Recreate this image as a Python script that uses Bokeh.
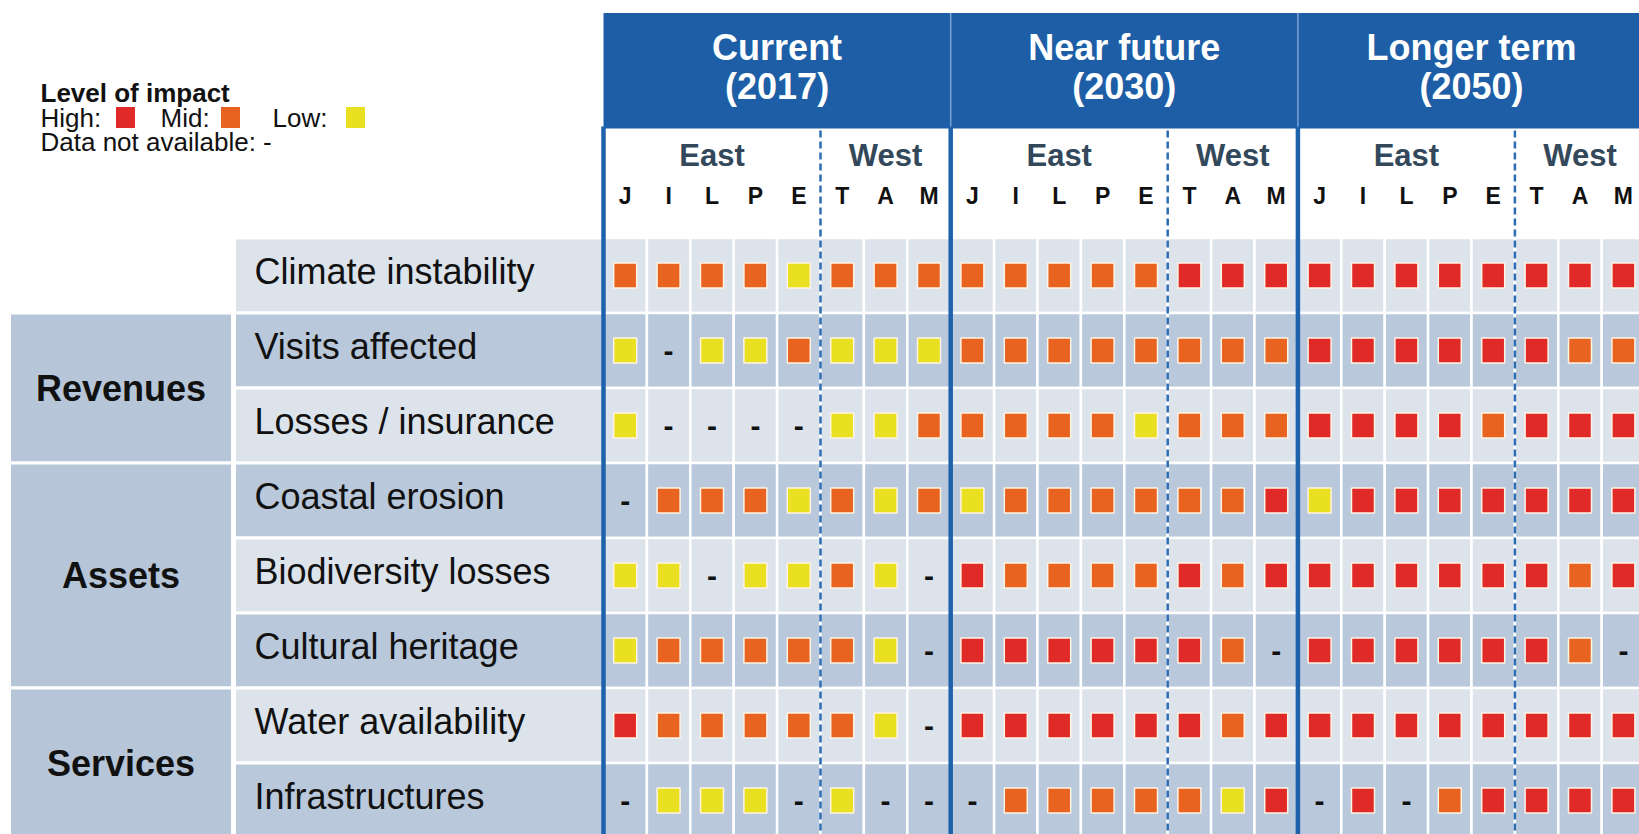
from bokeh.plotting import figure
from bokeh.models import Range1d
from bokeh.embed import file_html
from bokeh.resources import INLINE
from bokeh.core.properties import value

# ---------------- data ----------------
periods = ["Current", "Near future", "Longer term"]
period_years = ["(2017)", "(2030)", "(2050)"]
regions = ["East", "West"]
region_sizes = [5, 3]
sites = ["J", "I", "L", "P", "E", "T", "A", "M"]
impacts = ["Climate instability", "Visits affected", "Losses / insurance",
           "Coastal erosion", "Biodiversity losses", "Cultural heritage",
           "Water availability", "Infrastructures"]
groups = ["Revenues", "Assets", "Services"]
group_rows = [[1, 2], [3, 4, 5], [6, 7]]

# H = high, M = mid, L = low, - = data not available (sites J I L P E T A M)
impact_2017 = ["MMMMLMMM", "L-LLMLLL", "L----LLM", "-MMMLMLM",
               "LL-LLML-", "LMMMMML-", "HMMMMML-", "-LLL-L--"]
impact_2030 = ["MMMMMHHH", "MMMMMMMM", "MMMMLMMM", "LMMMMMMH",
               "HMMMMHMH", "HHHHHHM-", "HHHHHHMH", "-MMMMMLH"]
impact_2050 = ["HHHHHHHH", "HHHHHHMM", "HHHHMHHH", "LHHHHHHH",
               "HHHHHHMH", "HHHHHHM-", "HHHHHHHH", "-H-MHHHH"]
impact_by_period = [impact_2017, impact_2030, impact_2050]

level_names = ["High", "Mid", "Low"]
level_codes = ["H", "M", "L"]
level_colors = {"H": "#e02a27", "M": "#e8631f", "L": "#e8e020"}

# ---------------- layout (reference pixel frame) ----------------
X0, CW, Y0, RH = 603.0, 43.4, 237.5, 75.0
PAGE, W, H = 0, 1639, 834
FONT = value("Liberation Sans")


def ux(px):
    return (px - X0) / CW


def uy(py):
    return (py - Y0) / RH


NCOL = len(sites)
NP = len(periods)
NR = len(impacts)

p = figure(width=W, height=H,
           x_range=Range1d(ux(PAGE), ux(PAGE + W)),
           y_range=Range1d(uy(PAGE + H), uy(PAGE)),
           x_axis_type=None, y_axis_type=None,
           output_backend="svg", toolbar_location=None, min_border=0)
p.outline_line_color = None
p.background_fill_color = "white"
p.border_fill_color = "white"

LIGHT, DARK, CAT = "#dce3eb", "#b9c8da", "#b6c6d8"

# ---- label columns ----
p.quad(left=ux(234), right=0, top=list(range(NR)), bottom=[r + 1 for r in range(NR)],
       fill_color=[LIGHT if r % 2 == 0 else DARK for r in range(NR)],
       line_color="white", line_width=3)
p.quad(left=ux(9), right=ux(232),
       top=[g[0] for g in group_rows], bottom=[g[-1] + 1 for g in group_rows],
       fill_color=CAT, line_color="white", line_width=3)
p.text(x=ux(254), y=[r + 0.5 - 4 / RH for r in range(NR)], text=impacts,
       text_font=FONT, text_font_size="36px", text_color="#111111",
       text_align="left", text_baseline="middle")
p.text(x=ux(120.5), y=[(g[0] + g[-1] + 1) / 2 for g in group_rows], text=groups,
       text_font=FONT, text_font_size="36px", text_font_style="bold",
       text_color="#111111", text_align="center", text_baseline="middle")

# ---- data cells ----
cx, cy, cfill, lx, ly, lfill, nx, ny = [], [], [], [], [], [], [], []
for k in range(NP):
    for r in range(NR):
        for c in range(NCOL):
            x = k * NCOL + c + 0.5
            y = r + 0.5
            cx.append(x); cy.append(y)
            cfill.append(LIGHT if r % 2 == 0 else DARK)
            code = impact_by_period[k][r][c]
            if code in level_colors:
                lx.append(x); ly.append(y); lfill.append(level_colors[code])
            else:
                nx.append(x); ny.append(y)

p.rect(x=cx, y=cy, width=1, height=1, fill_color=cfill,
       line_color="white", line_width=2.5)

# header block
p.quad(left=0, right=NP * NCOL + 1, top=uy(12.5), bottom=uy(128), fill_color="#1d5ea6",
       line_color=None)
p.segment(x0=[NCOL * k for k in range(1, NP)], x1=[NCOL * k for k in range(1, NP)],
          y0=uy(12.5), y1=uy(128), line_color="#7aa2d2", line_width=1.5)
p.text(x=[NCOL * k + NCOL / 2 for k in range(NP)], y=uy(47), text=periods,
       text_font=FONT, text_font_size="36px", text_font_style="bold",
       text_color="white", text_align="center", text_baseline="middle")
p.text(x=[NCOL * k + NCOL / 2 for k in range(NP)], y=uy(86), text=period_years,
       text_font=FONT, text_font_size="36px", text_font_style="bold",
       text_color="white", text_align="center", text_baseline="middle")

# region and site labels
rx, rt = [], []
for k in range(NP):
    start = 0
    for name, n in zip(regions, region_sizes):
        rx.append(k * NCOL + start + n / 2); rt.append(name)
        start += n
p.text(x=rx, y=uy(155), text=rt, text_font=FONT, text_font_size="31px",
       text_font_style="bold", text_color="#33485b", text_align="center",
       text_baseline="middle")
p.text(x=[k * NCOL + c + 0.5 for k in range(NP) for c in range(NCOL)], y=uy(195),
       text=sites * NP, text_font=FONT, text_font_size="23px", text_font_style="bold",
       text_color="#111111", text_align="center", text_baseline="middle")

# dashed East/West separators and solid period separators
p.segment(x0=[k * NCOL + region_sizes[0] for k in range(NP)],
          x1=[k * NCOL + region_sizes[0] for k in range(NP)],
          y0=uy(130), y1=NR + 0.5, line_color="#2d6cb3", line_width=2.5,
          line_dash="7 4")
p.segment(x0=[k * NCOL for k in range(NP)], x1=[k * NCOL for k in range(NP)],
          y0=uy(126), y1=NR + 0.5, line_color="#1f62ac", line_width=4.5)

# impact squares and missing marks
p.rect(x=lx, y=ly, width=23, height=25, width_units="screen", height_units="screen",
       fill_color=lfill, line_color="#fff3e4", line_width=1.5)
p.text(x=nx, y=ny, text=["-"] * len(nx), text_font=FONT, text_font_size="30px",
       text_font_style="bold", text_color="#111111", text_align="center",
       text_baseline="middle")

# ---- legend ----
p.text(x=ux(40), y=uy(92), text=["Level of impact"], text_font=FONT,
       text_font_size="26px", text_font_style="bold", text_color="#111111",
       text_align="left", text_baseline="middle")
p.text(x=[ux(40), ux(160), ux(272)], y=uy(117), text=[n + ":" for n in level_names],
       text_font=FONT, text_font_size="26px", text_color="#111111",
       text_align="left", text_baseline="middle")
p.rect(x=[ux(125), ux(230), ux(355)], y=uy(117), width=19, height=21,
       width_units="screen", height_units="screen",
       fill_color=[level_colors[c] for c in level_codes], line_color=None)
p.text(x=ux(40), y=uy(141), text=["Data not available: -"], text_font=FONT,
       text_font_size="26px", text_color="#111111", text_align="left",
       text_baseline="middle")

open("out.html", "w").write(file_html(p, INLINE))
